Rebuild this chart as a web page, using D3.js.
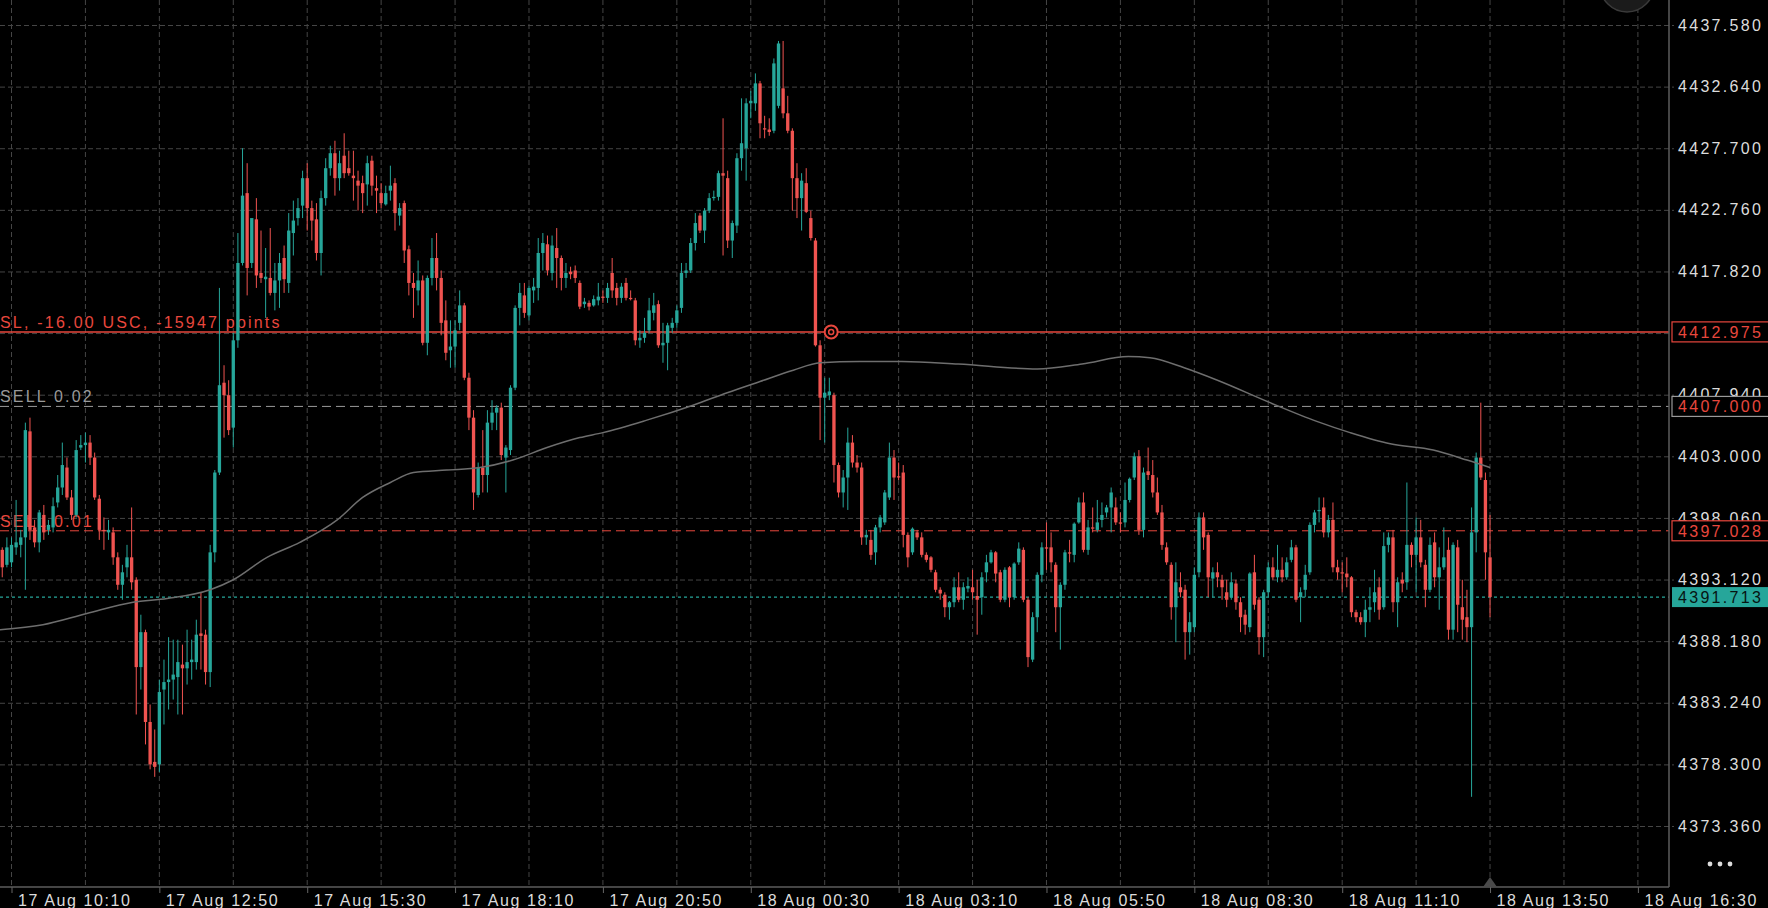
<!DOCTYPE html>
<html>
<head>
<meta charset="utf-8">
<script src="https://cdn.jsdelivr.net/npm/d3@7"></script>
<style>
html,body{margin:0;padding:0;background:#000;overflow:hidden}
svg{display:block}
text{font-family:"Liberation Sans",Arial,sans-serif}
</style>
</head>
<body>
<svg id="chart"></svg>
<script>
// 5 minute candles, [open, high, low, close], first one sits two bars before the 17 Aug 10:10 tick
var firstIndex = -2
var ohlc = [
[4395.5,4395.7,4393.3,4394.1],[4394.3,4396.5,4394.1,4395.7],[4394.5,4396.5,4394.1,4395.9],[4395.7,4399.5,4395.1,4396.1],
[4395.9,4397.1,4394.9,4396.5],[4396.5,4405.7,4392.3,4405.1],[4405.0,4406.1,4396.3,4397.1],[4397.3,4397.9,4395.7,4396.1],
[4396.1,4398.7,4395.3,4398.5],[4398.3,4399.1,4396.3,4396.9],[4397.1,4397.9,4396.7,4397.5],[4397.3,4399.7,4396.9,4399.0],
[4399.3,4401.5,4398.9,4400.5],[4400.5,4404.1,4399.9,4402.3],[4402.1,4402.9,4399.5,4399.7],[4399.7,4400.3,4397.9,4398.3],
[4398.3,4404.3,4398.1,4403.5],[4403.7,4404.7,4403.5,4403.9],[4403.9,4404.9,4402.5,4404.1],[4404.1,4404.7,4402.3,4402.9],
[4402.9,4403.3,4399.5,4399.7],[4399.6,4399.9,4396.3,4397.1],[4397.1,4398.1,4395.5,4397.0],[4396.9,4397.9,4396.3,4397.1],
[4396.9,4397.3,4394.3,4394.9],[4394.9,4395.3,4392.3,4392.7],[4392.7,4394.3,4391.5,4393.7],[4394.1,4395.9,4393.3,4394.9],
[4394.9,4398.9,4392.3,4392.9],[4393.1,4393.3,4382.3,4386.1],[4386.1,4390.3,4384.3,4388.9],[4388.9,4389.1,4379.9,4381.7],
[4381.7,4383.1,4377.9,4378.3],[4378.5,4381.1,4377.3,4378.1],[4378.3,4385.1,4377.7,4384.1],[4384.3,4386.7,4381.5,4384.9],
[4384.9,4388.5,4382.7,4385.1],[4385.1,4388.3,4383.5,4385.5],[4385.3,4388.3,4382.3,4386.5],[4386.3,4387.9,4382.3,4386.0],
[4386.0,4389.1,4384.7,4386.5],[4386.5,4388.3,4385.1,4386.7],[4386.5,4389.9,4385.9,4388.7],[4388.8,4392.1,4385.9,4388.6],
[4388.7,4389.1,4384.7,4385.7],[4385.7,4395.9,4384.5,4395.3],[4395.3,4401.9,4394.5,4401.7],[4401.7,4416.5,4401.5,4408.7],
[4408.9,4410.3,4404.5,4407.9],[4407.9,4409.1,4404.7,4405.1],[4405.3,4412.9,4403.7,4412.3],[4412.3,4420.9,4411.7,4418.5],
[4418.5,4427.7,4418.3,4423.9],[4424.1,4426.5,4415.9,4418.1],[4418.5,4420.3,4418.1,4422.1],[4422.0,4423.7,4416.5,4417.5],
[4417.7,4421.1,4416.9,4417.3],[4417.2,4419.7,4414.1,4417.4],[4417.3,4421.3,4415.9,4416.1],[4416.1,4418.5,4414.7,4417.1],
[4417.1,4419.3,4414.9,4418.5],[4418.9,4419.9,4416.1,4417.2],[4416.9,4422.5,4416.1,4421.1],[4420.9,4423.5,4419.1,4421.9],
[4422.1,4423.7,4421.5,4422.9],[4423.1,4425.9,4422.1,4425.3],[4425.3,4426.5,4421.1,4422.9],[4422.9,4423.5,4420.3,4421.9],
[4422.0,4423.3,4418.7,4419.3],[4419.3,4424.3,4417.5,4423.7],[4423.7,4426.9,4423.1,4426.1],[4426.1,4427.9,4425.5,4427.3],
[4427.3,4428.3,4423.9,4425.3],[4425.3,4427.5,4424.3,4426.5],[4427.1,4428.9,4425.3,4425.7],[4426.1,4427.5,4425.5,4425.7],
[4425.5,4427.5,4423.5,4425.3],[4425.1,4425.9,4422.7,4424.7],[4424.9,4425.5,4422.5,4424.1],[4424.8,4427.1,4423.1,4426.5],
[4426.7,4427.1,4423.9,4424.7],[4424.5,4425.5,4422.5,4424.3],[4424.1,4424.9,4422.9,4423.3],[4423.2,4424.7,4423.1,4424.1],
[4424.3,4426.3,4423.5,4424.7],[4424.9,4425.3,4421.1,4422.5],[4422.3,4423.3,4421.5,4422.9],[4423.3,4423.5,4418.5,4419.5],
[4419.6,4419.9,4415.9,4416.9],[4416.9,4417.7,4414.1,4416.5],[4416.3,4418.7,4415.1,4417.1],[4417.1,4417.5,4411.9,4412.1],
[4412.1,4417.5,4411.1,4417.3],[4417.3,4420.5,4416.7,4418.9],[4418.9,4420.9,4416.3,4417.3],[4417.3,4417.9,4412.7,4413.7],
[4413.9,4415.5,4410.7,4411.3],[4411.5,4413.9,4410.1,4411.8],[4411.8,4413.9,4410.1,4413.1],[4413.7,4416.3,4413.1,4415.1],
[4415.1,4415.3,4409.1,4409.3],[4409.3,4409.7,4405.1,4406.1],[4406.1,4406.7,4398.7,4400.1],[4399.9,4402.5,4399.7,4402.1],
[4402.1,4405.1,4400.1,4401.5],[4401.5,4406.7,4400.1,4405.7],[4405.7,4407.5,4405.1,4406.5],[4406.5,4407.1,4405.1,4406.9],
[4406.9,4407.3,4402.7,4403.1],[4402.9,4403.9,4400.1,4403.7],[4403.5,4408.7,4403.1,4408.5],[4408.5,4415.1,4408.3,4414.9],
[4414.9,4416.9,4413.5,4416.1],[4415.9,4416.9,4414.1,4414.5],[4414.3,4416.7,4413.9,4416.5],[4416.3,4417.3,4415.3,4416.6],
[4416.5,4420.5,4415.5,4419.3],[4419.3,4420.9,4417.9,4420.1],[4420.0,4420.7,4417.5,4417.9],[4417.7,4420.7,4417.1,4419.9],
[4419.7,4421.3,4416.5,4418.9],[4418.9,4419.1,4416.3,4417.3],[4417.3,4418.5,4416.5,4417.7],[4417.8,4418.2,4417.2,4417.6],
[4417.9,4418.3,4416.9,4417.3],[4416.9,4417.1,4414.8,4415.0],[4415.2,4415.7,4414.9,4415.4],[4415.3,4415.5,4414.7,4415.0],
[4415.1,4415.9,4415.0,4415.6],[4415.5,4416.9,4415.1,4415.8],[4415.8,4416.3,4415.3,4415.7],[4415.7,4416.9,4415.3,4416.5],
[4417.7,4418.9,4415.7,4416.3],[4416.5,4416.9,4415.1,4415.7],[4415.7,4416.9,4415.3,4416.6],[4416.9,4417.3,4415.5,4415.7],
[4415.7,4416.3,4415.5,4415.6],[4415.5,4415.7,4411.9,4412.3],[4412.3,4413.1,4411.7,4412.5],[4412.5,4414.1,4412.1,4412.9],
[4413.1,4415.7,4412.9,4414.7],[4414.5,4416.1,4413.9,4415.1],[4415.2,4415.5,4411.7,4411.9],[4411.9,4413.7,4410.5,4412.1],
[4412.1,4413.7,4409.9,4413.5],[4413.3,4414.1,4412.9,4413.7],[4413.7,4415.1,4413.3,4414.7],[4414.9,4418.5,4414.5,4417.7],
[4417.7,4418.5,4417.3,4417.9],[4417.9,4420.5,4417.7,4420.1],[4420.1,4422.5,4419.5,4421.7],[4422.3,4422.5,4420.9,4421.1],
[4421.1,4422.9,4420.1,4422.7],[4422.7,4424.1,4422.5,4423.7],[4423.7,4424.3,4423.5,4423.8],[4423.8,4425.9,4423.5,4425.7],
[4425.7,4430.1,4419.1,4425.5],[4425.3,4425.9,4419.7,4420.3],[4420.3,4421.9,4418.9,4421.7],[4421.5,4427.3,4420.9,4426.9],
[4426.9,4431.7,4425.9,4428.1],[4427.7,4431.7,4425.1,4431.3],[4431.3,4432.3,4430.1,4431.5],[4431.3,4433.7,4430.7,4432.9],
[4432.9,4433.1,4428.5,4429.7],[4429.3,4430.3,4428.5,4429.2],[4429.2,4430.1,4428.7,4429.0],[4429.1,4434.9,4428.9,4434.5],
[4431.1,4436.3,4430.9,4436.1],[4432.5,4436.3,4430.1,4430.5],[4430.5,4431.9,4428.9,4429.1],[4429.1,4429.3,4422.7,4425.3],
[4425.3,4426.5,4422.1,4423.7],[4423.7,4425.7,4421.1,4425.1],[4424.9,4426.1,4422.5,4422.6],[4422.1,4422.7,4420.3,4420.5],
[4420.3,4420.5,4411.8,4411.9],[4411.9,4412.3,4404.3,4407.7],[4407.7,4409.3,4404.1,4408.1],[4407.9,4409.3,4407.5,4408.2],
[4407.9,4408.1,4400.9,4402.3],[4402.3,4402.5,4399.7,4400.1],[4400.1,4401.9,4398.9,4401.3],[4401.3,4405.3,4398.7,4404.1],
[4404.1,4404.7,4402.1,4402.5],[4402.5,4403.1,4401.7,4402.1],[4402.1,4402.5,4395.9,4396.5],[4396.5,4397.1,4395.9,4396.7],
[4396.3,4397.1,4394.7,4395.1],[4395.3,4397.5,4394.3,4397.3],[4397.3,4398.3,4396.9,4398.1],[4397.7,4400.3,4397.5,4400.1],
[4399.7,4404.1,4399.5,4402.9],[4402.9,4403.5,4399.5,4401.3],[4401.4,4402.5,4401.1,4401.3],[4401.7,4402.3,4395.7,4396.7],
[4396.7,4396.9,4394.1,4394.9],[4395.3,4397.3,4395.1,4397.2],[4396.9,4397.1,4396.3,4396.5],[4396.5,4396.9,4394.9,4395.1],
[4395.1,4395.3,4394.5,4394.7],[4394.9,4395.0,4393.7,4393.9],[4393.7,4393.9,4392.1,4392.3],[4392.3,4392.5,4391.5,4392.0],
[4391.9,4392.1,4390.1,4390.9],[4390.9,4391.4,4389.9,4391.3],[4391.3,4393.3,4390.9,4392.5],[4392.5,4393.7,4391.3,4391.5],
[4391.5,4392.9,4390.7,4392.5],[4392.4,4393.3,4392.1,4392.6],[4392.5,4393.9,4391.5,4392.1],[4391.8,4393.1,4388.7,4391.5],
[4391.7,4393.7,4390.3,4393.3],[4393.7,4395.1,4392.9,4394.5],[4394.5,4395.5,4394.4,4395.3],[4395.3,4395.4,4392.9,4393.6],
[4393.7,4393.9,4391.3,4391.5],[4391.5,4394.1,4391.3,4393.9],[4394.1,4394.2,4390.9,4391.7],[4391.7,4394.5,4391.5,4394.4],
[4394.5,4396.1,4394.3,4395.6],[4395.5,4395.7,4391.3,4391.5],[4391.5,4391.7,4386.1,4386.9],[4386.7,4390.5,4386.5,4390.1],
[4390.1,4393.7,4388.9,4393.5],[4393.5,4396.1,4392.9,4395.7],[4395.7,4397.7,4393.9,4395.6],[4395.7,4396.9,4393.7,4394.5],
[4394.3,4394.5,4388.9,4390.9],[4390.9,4392.9,4387.5,4392.7],[4392.7,4395.5,4392.3,4395.3],[4395.3,4396.3,4394.5,4395.2],
[4395.1,4397.7,4394.5,4397.6],[4397.7,4399.7,4397.6,4399.3],[4399.3,4400.1,4395.3,4395.5],[4395.5,4397.9,4395.1,4397.3],
[4397.3,4398.9,4396.9,4397.2],[4397.1,4399.5,4396.9,4397.7],[4397.9,4399.3,4397.3,4398.3],[4398.5,4399.1,4398.1,4398.9],
[4398.9,4400.5,4396.9,4400.1],[4398.9,4399.7,4397.5,4397.7],[4397.7,4398.5,4396.9,4397.6],[4397.7,4400.9,4397.3,4399.5],
[4399.5,4401.3,4399.3,4401.2],[4401.3,4403.3,4401.1,4403.0],[4403.0,4403.5,4396.7,4397.1],[4397.1,4402.1,4396.5,4401.7],
[4401.8,4403.7,4401.1,4401.5],[4401.5,4402.7,4399.7,4400.1],[4400.1,4401.3,4398.3,4398.5],[4398.5,4399.1,4395.5,4395.9],
[4395.7,4396.1,4394.3,4394.5],[4394.3,4394.5,4389.9,4390.9],[4390.9,4394.5,4388.1,4392.9],[4392.5,4393.7,4391.7,4392.1],
[4392.3,4392.7,4386.7,4388.9],[4388.9,4390.5,4387.1,4389.7],[4389.3,4394.1,4388.9,4393.5],[4393.7,4398.5,4393.3,4398.1],
[4398.1,4398.5,4395.5,4396.5],[4396.7,4396.9,4391.7,4393.3],[4393.2,4394.1,4391.7,4393.7],[4393.7,4394.5,4392.5,4393.3],
[4393.1,4393.5,4391.5,4392.5],[4392.1,4393.1,4390.9,4391.5],[4391.7,4393.7,4391.5,4392.9],[4392.8,4393.1,4390.7,4391.3],
[4391.3,4391.7,4388.9,4390.1],[4390.3,4390.7,4388.7,4389.5],[4389.3,4393.7,4388.9,4393.6],[4393.7,4395.1,4390.7,4391.1],
[4391.5,4391.7,4387.1,4388.5],[4388.5,4392.3,4386.9,4392.1],[4392.1,4394.5,4391.7,4394.1],[4394.1,4394.9,4393.1,4393.3],
[4393.3,4395.9,4392.9,4393.9],[4393.9,4394.9,4392.9,4393.3],[4393.3,4394.9,4393.1,4394.5],[4394.7,4396.3,4394.5,4395.7],
[4395.7,4395.9,4391.3,4391.5],[4391.7,4392.5,4389.7,4392.1],[4392.3,4394.3,4391.7,4393.5],[4393.7,4397.7,4393.5,4397.5],
[4397.5,4398.7,4396.9,4398.5],[4398.6,4399.7,4397.7,4398.7],[4398.9,4399.7,4396.5,4396.9],[4396.9,4398.3,4396.5,4397.9],
[4397.9,4399.3,4393.7,4394.1],[4394.1,4394.7,4393.1,4393.7],[4393.7,4394.5,4392.1,4393.6],[4393.6,4394.9,4392.5,4393.3],
[4393.3,4393.4,4390.1,4390.5],[4390.5,4390.7,4389.7,4390.1],[4390.1,4390.5,4389.5,4389.7],[4389.7,4391.5,4388.5,4390.7],
[4390.7,4392.5,4389.7,4390.9],[4391.3,4393.9,4390.5,4392.1],[4392.5,4393.3,4389.9,4390.7],[4390.9,4396.9,4390.7,4395.8],
[4395.9,4396.9,4395.3,4396.5],[4396.5,4397.1,4390.5,4391.3],[4391.3,4393.3,4389.3,4392.9],[4393.1,4393.7,4392.1,4392.8],
[4392.9,4400.9,4392.3,4395.9],[4395.9,4396.1,4394.1,4395.1],[4395.1,4398.1,4392.1,4396.5],[4396.5,4397.9,4394.1,4394.5],
[4394.3,4394.7,4390.9,4392.3],[4392.3,4396.5,4392.1,4395.9],[4396.1,4396.9,4392.5,4393.3],[4393.3,4395.7,4390.7,4394.1],
[4394.1,4397.3,4393.9,4394.9],[4395.5,4396.5,4388.3,4389.1],[4389.1,4396.1,4388.3,4395.9],[4395.7,4396.3,4388.9,4391.1],
[4390.9,4393.1,4388.3,4389.9],[4390.1,4392.3,4388.1,4389.3],[4389.3,4398.9,4375.7,4396.9],[4396.9,4403.3,4395.3,4402.9],
[4402.9,4407.3,4401.1,4401.3],[4401.1,4401.7,4393.1,4395.3],[4394.9,4398.3,4390.1,4391.713]
]

// moving average, sampled along the curve [bar index, price]
var maPoints = [
[-2.5,4389.1],[6.8,4389.5],[16.3,4390.4],[26.3,4391.3],[33.7,4391.6],[43,4392.3],[48,4393.1],[55.3,4394.9],
[62.4,4396.1],[70.5,4397.9],[76,4399.7],[82,4400.9],[87,4401.7],[94.2,4401.9],[101.4,4402.1],[108.5,4402.7],
[115.9,4403.7],[123,4404.5],[128,4404.9],[137.5,4405.9],[147.5,4407.1],[154.9,4408.1],[162,4409.0],[169.2,4409.9],
[175,4410.5],[183.6,4410.6],[192.7,4410.6],[204.9,4410.4],[222,4410.0],[231.7,4410.4],[241.7,4411.0],[246.4,4410.9],
[253.8,4410.1],[261,4409.1],[272.4,4407.3],[282.5,4405.8],[289.7,4404.9],[298.4,4404.0],[307.7,4403.5],[315,4402.7],[320,4402.1]
]

var timeLabels = ["17 Aug 10:10","17 Aug 12:50","17 Aug 15:30","17 Aug 18:10","17 Aug 20:50","18 Aug 00:30",
                  "18 Aug 03:10","18 Aug 05:50","18 Aug 08:30","18 Aug 11:10","18 Aug 13:50","18 Aug 16:30"]
var barsPerLabel = 32
var barsPerGrid = 16

var yTickValues = [4437.58,4432.64,4427.70,4422.76,4417.82,4412.88,4407.94,4403.00,4398.06,4393.12,4388.18,4383.24,4378.30,4373.36]

var levelPrices = [4412.975, 4407.000, 4397.028]
var levelLabels = ["SL, -16.00 USC, -15947 points", "SELL 0.02", "SELL 0.01"]
var lastPrice = 4391.713
var slMarkerIndex = 177.4

var W = 1768, H = 908
var plotRight = 1669, plotBottom = 887
var upColor = "#26a69a", downColor = "#ef5350", slColor = "#e8473d"

var svg = d3.select("#chart").attr("width", W).attr("height", H)
svg.append("rect").attr("width", W).attr("height", H).attr("fill", "#000")

var x = d3.scaleLinear().domain([0, 352]).range([11.5, 1637.9])
var y = d3.scaleLinear().domain([4373.36, 4437.58]).range([826, 25])
var step = x(1) - x(0)
var bodyW = step * 0.72

// horizontal grid + price labels
var gy = svg.append("g")
  .call(d3.axisRight(y).tickValues(yTickValues).tickFormat(d3.format(".3f")).tickSize(plotRight + 5).tickPadding(4))
gy.select(".domain").remove()
gy.selectAll("line").attr("stroke", "#454545").attr("stroke-dasharray", "5,3")
gy.selectAll("text").attr("fill", "#dcdcdc").style("font-size", "16px").style("letter-spacing", "2.3px")

// vertical grid
var gridIdx = d3.range(0, 352 + 1, barsPerGrid)
svg.append("g").selectAll("line")
  .data(gridIdx)
  .enter()
  .append("line")
  .attr("x1", function(d){ return x(d) })
  .attr("x2", function(d){ return x(d) })
  .attr("y1", 0)
  .attr("y2", plotBottom)
  .attr("stroke", "#454545")
  .attr("stroke-dasharray", "5,3")

// time axis
var gx = svg.append("g")
  .attr("transform", "translate(0," + plotBottom + ")")
  .call(d3.axisBottom(x)
    .tickValues(timeLabels.map(function(d, i){ return i * barsPerLabel }))
    .tickFormat(function(d, i){ return timeLabels[i] })
    .tickSize(6))
gx.select(".domain").remove()
gx.selectAll("line").attr("stroke", "#666")
gx.selectAll("text")
  .attr("fill", "#dcdcdc")
  .attr("text-anchor", "start")
  .attr("x", 6)
  .attr("y", 19)
  .attr("dy", 0)
  .style("font-size", "16px")
  .style("letter-spacing", "1.6px")

// order level lines
var levelStroke = [slColor, "#9a9a9a", slColor]
var levelDash = [null, "9,5", "9,5"]
var levelTextColor = [slColor, "#9a9a9a", slColor]
var levelG = svg.append("g")
levelG.selectAll("line")
  .data(levelPrices)
  .enter()
  .append("line")
  .attr("x1", 0)
  .attr("x2", plotRight)
  .attr("y1", function(d){ return y(d) })
  .attr("y2", function(d){ return y(d) })
  .attr("stroke", function(d, i){ return levelStroke[i] })
  .attr("stroke-width", function(d, i){ return i == 0 ? 1.5 : 1 })
  .attr("stroke-dasharray", function(d, i){ return levelDash[i] })
levelG.selectAll("text")
  .data(levelPrices)
  .enter()
  .append("text")
  .attr("x", 0)
  .attr("y", function(d){ return y(d) - 4 })
  .text(function(d, i){ return levelLabels[i] })
  .attr("fill", function(d, i){ return levelTextColor[i] })
  .style("font-size", "16px")
  .style("letter-spacing", "2.2px")

svg.append("line")
  .attr("x1", 0).attr("x2", plotRight)
  .attr("y1", y(lastPrice)).attr("y2", y(lastPrice))
  .attr("stroke", upColor).attr("stroke-width", 1.2).attr("stroke-dasharray", "3,3")

// candles
var cg = svg.append("g").selectAll("g")
  .data(ohlc)
  .enter()
  .append("g")
cg.append("line")
  .attr("x1", function(d, i){ return x(i + firstIndex) })
  .attr("x2", function(d, i){ return x(i + firstIndex) })
  .attr("y1", function(d){ return y(d[1]) })
  .attr("y2", function(d){ return y(d[2]) })
  .attr("stroke", function(d){ return d[3] >= d[0] ? upColor : downColor })
  .attr("stroke-width", 1)
cg.append("rect")
  .attr("x", function(d, i){ return x(i + firstIndex) - bodyW / 2 })
  .attr("y", function(d){ return y(Math.max(d[0], d[3])) })
  .attr("width", bodyW)
  .attr("height", function(d){ return Math.max(1, Math.abs(y(d[0]) - y(d[3]))) })
  .attr("fill", function(d){ return d[3] >= d[0] ? upColor : downColor })

// moving average
svg.append("path")
  .datum(maPoints)
  .attr("d", d3.line()
    .x(function(d){ return x(d[0]) })
    .y(function(d){ return y(d[1]) })
    .curve(d3.curveMonotoneX))
  .attr("fill", "none")
  .attr("stroke", "#6e6e6e")
  .attr("stroke-width", 1.5)

// axis frame
svg.append("line").attr("x1", plotRight).attr("x2", plotRight).attr("y1", 0).attr("y2", plotBottom)
  .attr("stroke", "#5c5c5c").attr("stroke-width", 1.5)
svg.append("line").attr("x1", 0).attr("x2", plotRight).attr("y1", plotBottom).attr("y2", plotBottom)
  .attr("stroke", "#5c5c5c").attr("stroke-width", 1.5)

// price boxes on the right axis
var boxStroke = [slColor, "#9a9a9a", slColor]
var boxG = svg.append("g")
var boxes = boxG.selectAll("g")
  .data(levelPrices)
  .enter()
  .append("g")
boxes.append("rect")
  .attr("x", plotRight + 3)
  .attr("y", function(d){ return y(d) - 10 })
  .attr("width", 110)
  .attr("height", 20)
  .attr("fill", "#000")
  .attr("stroke", function(d, i){ return boxStroke[i] })
  .attr("stroke-width", 1.2)
boxes.append("text")
  .attr("x", plotRight + 9)
  .attr("y", function(d){ return y(d) })
  .attr("dy", "0.36em")
  .text(function(d){ return d3.format(".3f")(d) })
  .attr("fill", slColor)
  .style("font-size", "16px")
  .style("letter-spacing", "2.3px")

boxG.append("rect")
  .attr("x", plotRight + 3)
  .attr("y", y(lastPrice) - 10)
  .attr("width", 110)
  .attr("height", 20)
  .attr("fill", upColor)
boxG.append("text")
  .attr("x", plotRight + 9)
  .attr("y", y(lastPrice))
  .attr("dy", "0.36em")
  .text(d3.format(".3f")(lastPrice))
  .attr("fill", "#071412")
  .style("font-size", "16px")
  .style("letter-spacing", "2.3px")

// SL drag marker
var mx = x(slMarkerIndex), my = y(levelPrices[0])
svg.append("circle").attr("cx", mx).attr("cy", my).attr("r", 6.5)
  .attr("fill", "#000").attr("stroke", slColor).attr("stroke-width", 2)
svg.append("circle").attr("cx", mx).attr("cy", my).attr("r", 2.5)
  .attr("fill", "none").attr("stroke", slColor).attr("stroke-width", 1.5)

// last bar marker on the time axis
var lx = x(ohlc.length - 1 + firstIndex)
svg.append("path")
  .attr("d", "M" + (lx - 7) + "," + plotBottom + "L" + lx + "," + (plotBottom - 10) + "L" + (lx + 7) + "," + plotBottom + "Z")
  .attr("fill", "#4a4a4a")

// round button top right and menu dots
svg.append("circle").attr("cx", 1627).attr("cy", -15).attr("r", 27)
  .attr("fill", "#1b1b1b").attr("stroke", "#3a3a3a").attr("stroke-width", 1.5)
svg.append("g").selectAll("circle")
  .data([-1, 0, 1])
  .enter()
  .append("circle")
  .attr("cx", function(d){ return 1720 + d * 10 })
  .attr("cy", 864)
  .attr("r", 2.4)
  .attr("fill", "#dcdcdc")
</script>
</body>
</html>
